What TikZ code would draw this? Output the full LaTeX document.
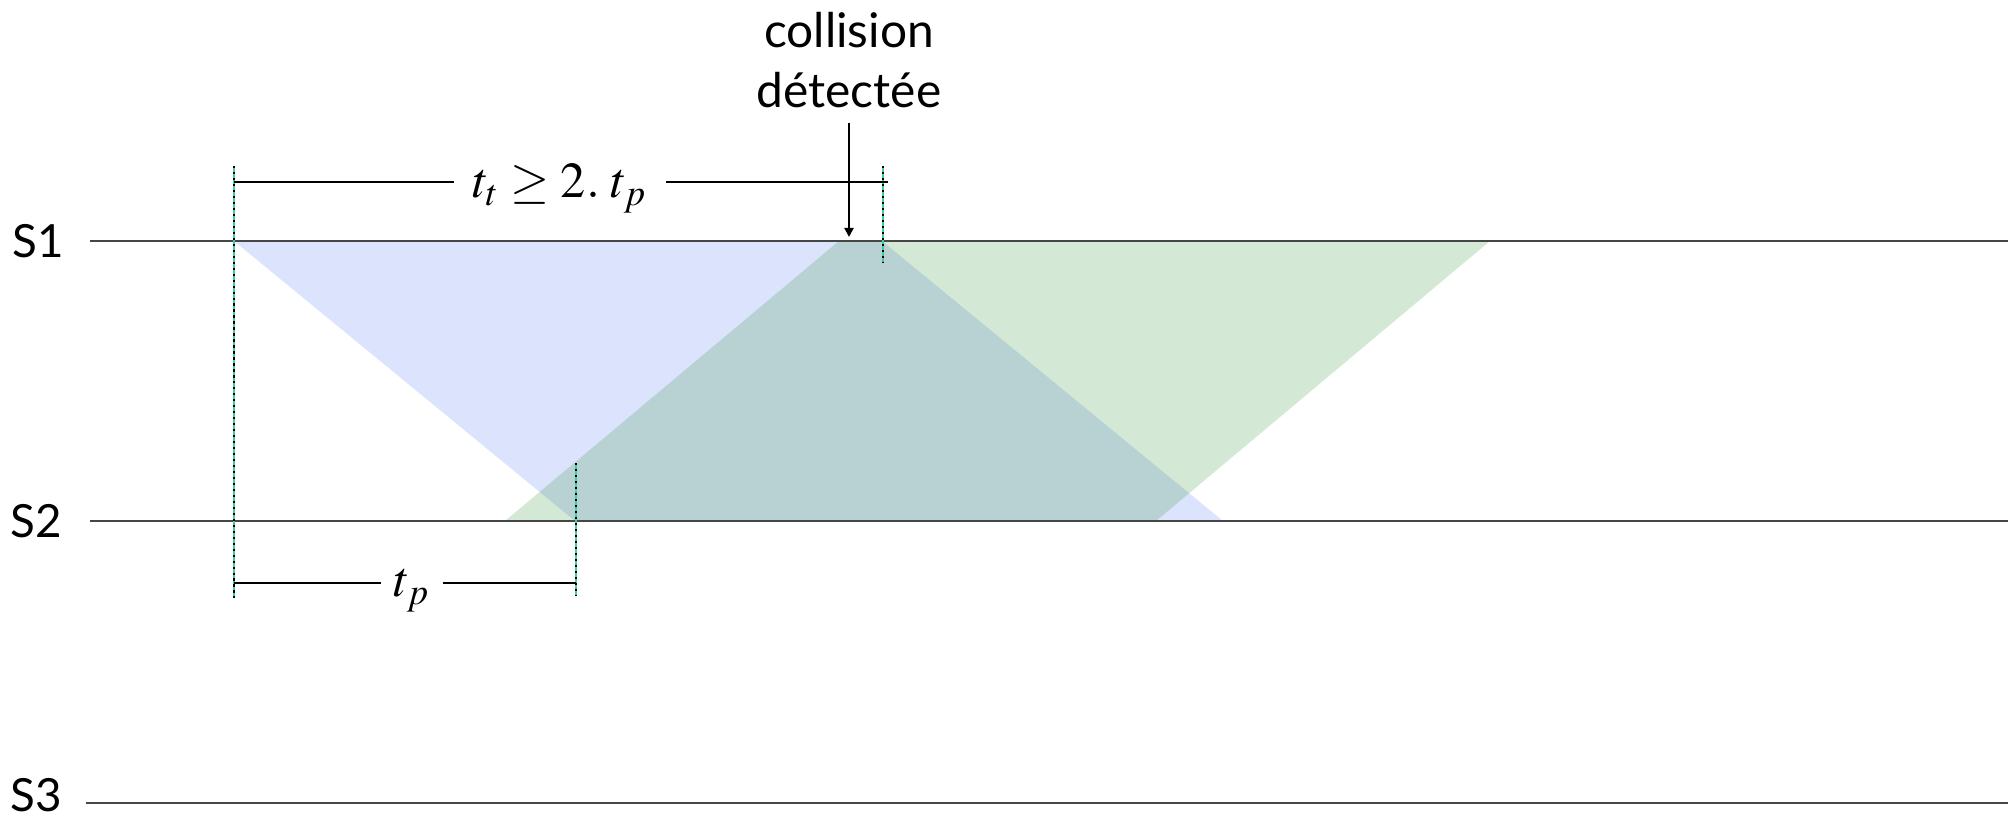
\documentclass[tikz,border=0pt]{standalone}
\usepackage{mathptmx}
\usepackage{fontspec}
\setmainfont{Lato}
\usepackage{xcolor}
\definecolor{frameblue}{RGB}{80,115,245}
\definecolor{framegreen}{RGB}{40,145,45}
\definecolor{markteal}{RGB}{60,205,165}
\definecolor{wiregray}{RGB}{70,70,70}
\usetikzlibrary{arrows.meta, positioning, calc}

\begin{document}
\begin{tikzpicture}[x=0.01cm, y=-0.01cm, >={Triangle[length=2.6pt, width=2.6pt]}]
    \tikzset{
        station/.style={font=\fontsize{13}{15}\selectfont, inner sep=0pt},
        wire/.style={wiregray, line width=0.55pt},
        marker/.style={markteal, line width=0.45pt,
            postaction={draw=black, line width=0.65pt, dash pattern=on 0.65pt off 1.05pt}},
        dimline/.style={black, line width=0.35pt},
        dimlabel/.style={font=\fontsize{14.3}{17}\selectfont, anchor=base},
    }
    \useasboundingbox (0,0) rectangle (2008,819);

    % frames on the medium
    \fill[frameblue, opacity=0.2] (234,241) -- (882,241) -- (1223,521) -- (575,521) -- cycle;
    \fill[framegreen, opacity=0.2] (839,241) -- (1490,241) -- (1156,521) -- (505,521) -- cycle;

    % stations
    \node[station] (s1) at (38,241) {S1};
    \node[station] (s2) at (36,521) {S2};
    \node[station] (s3) at (36,795) {S3};
    \draw[wire] (90,241) -- (2008,241);
    \draw[wire] (90,521) -- (2008,521);
    \draw[wire] (86,803) -- (2008,803);

    % time markers
    \draw[marker] (234,166) -- (234,598);
    \draw[marker] (883,166) -- (883,263);
    \draw[marker] (576,463) -- (576,595);

    % t_t >= 2 t_p
    \coordinate (ttL) at (234,182);
    \coordinate (ttR) at (888,182);
    \node[dimlabel, inner xsep=5.2pt] (tt) at (560,198) {$t_t \geq 2.\;t_p$};
    \draw[dimline] (ttL) -- (ttL -| tt.west);
    \draw[dimline] (ttR -| tt.east) -- (ttR);

    % t_p
    \coordinate (tpL) at (234,583);
    \coordinate (tpR) at (576,583);
    \node[dimlabel, inner xsep=3.4pt] (tp) at (412,597) {$t_p$};
    \draw[dimline] (tpL) -- (tpL -| tp.west);
    \draw[dimline] (tp.east |- tpR) -- (tpR);

    % collision
    \coordinate (hit) at (849,237);
    \node[station, align=center, anchor=north, font=\fontsize{13.6}{17}\selectfont] (col) at (849,12) {collision\\détectée};
    \draw[->, line width=0.55pt] ([yshift=-4pt]col.south) -- (hit);
\end{tikzpicture}
\end{document}
